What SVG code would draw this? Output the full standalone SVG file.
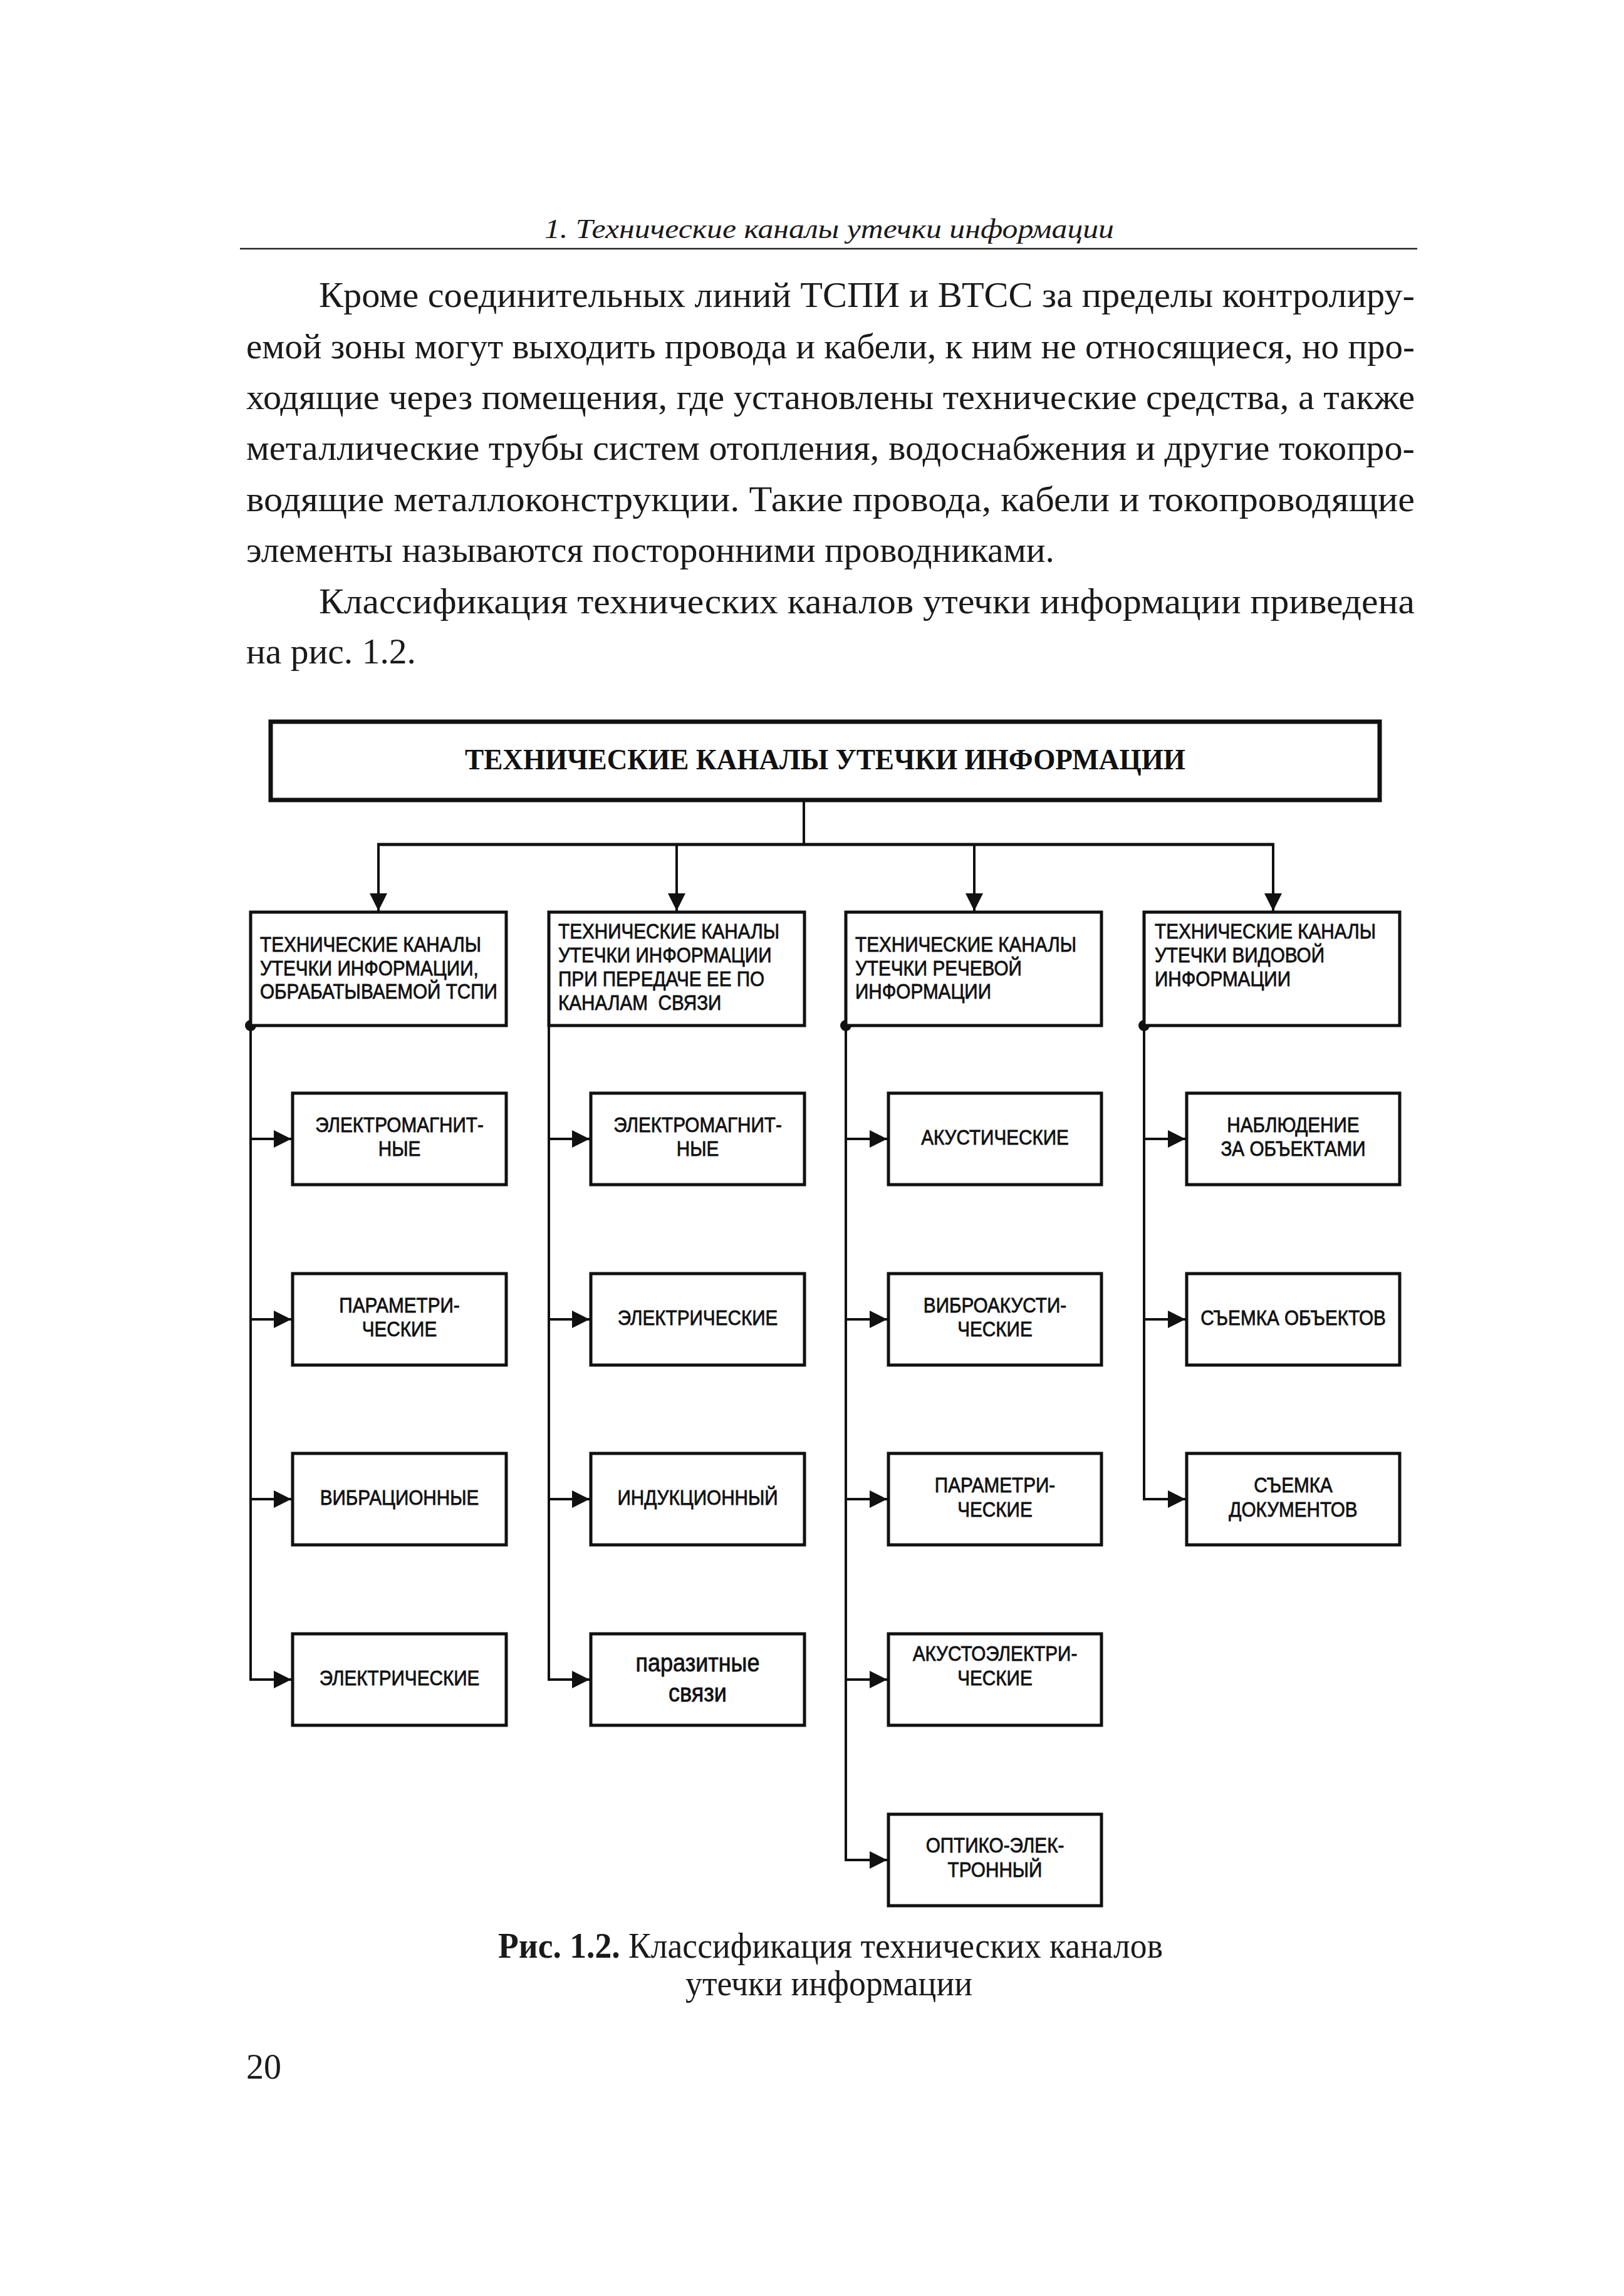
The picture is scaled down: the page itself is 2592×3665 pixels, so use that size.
<svg xmlns="http://www.w3.org/2000/svg" width="2592" height="3665" viewBox="0 0 2592 3665">
<defs>
<style>
.bg{fill:#fff}
.page{font-family:"Liberation Serif","Times New Roman",serif;fill:#1a1a1a}
.body{font-size:58px}
.cap{font-size:56px}
.hdr{font-size:44px;font-style:italic}
.box{fill:#fff;stroke:#111;stroke-width:5}
.topbox{fill:#fff;stroke:#111;stroke-width:7}
.title{font-family:"Liberation Serif","Times New Roman",serif;font-weight:bold;font-size:46px;fill:#111}
.lbl{font-family:"Liberation Sans",Arial,sans-serif;font-size:33px;fill:#111;stroke:#111;stroke-width:0.8}
.lbl.big{font-size:40px}
.con{fill:none;stroke:#111;stroke-width:4}
.bus{fill:none;stroke:#111;stroke-width:5}
.dot{fill:#111}
</style>
<marker id="ah" markerUnits="userSpaceOnUse" markerWidth="30" markerHeight="30" refX="28" refY="14" orient="auto">
<path d="M0,0 L28,14 L0,28 z" fill="#111"/>
</marker>
</defs>
<rect class="bg" x="0" y="0" width="2592" height="3665"/>

<g id="page-text" class="page">
<text class="hdr" x="869" y="380" textLength="909" lengthAdjust="spacingAndGlyphs">1. Технические каналы утечки информации</text>
<line x1="383" y1="397" x2="2262" y2="397" stroke="#222" stroke-width="2.5"/>
<text class="body" x="509" y="490" textLength="1749" lengthAdjust="spacingAndGlyphs">Кроме соединительных линий ТСПИ и ВТСС за пределы контролиру-</text>
<text class="body" x="393" y="572" textLength="1865" lengthAdjust="spacingAndGlyphs">емой зоны могут выходить провода и кабели, к ним не относящиеся, но про-</text>
<text class="body" x="393" y="653" textLength="1865" lengthAdjust="spacingAndGlyphs">ходящие через помещения, где установлены технические средства, а также</text>
<text class="body" x="393" y="734" textLength="1865" lengthAdjust="spacingAndGlyphs">металлические трубы систем отопления, водоснабжения и другие токопро-</text>
<text class="body" x="393" y="816" textLength="1865" lengthAdjust="spacingAndGlyphs">водящие металлоконструкции. Такие провода, кабели и токопроводящие</text>
<text class="body" x="393" y="897" textLength="1290" lengthAdjust="spacingAndGlyphs">элементы называются посторонними проводниками.</text>
<text class="body" x="509" y="979" textLength="1749" lengthAdjust="spacingAndGlyphs">Классификация технических каналов утечки информации приведена</text>
<text class="body" x="393" y="1059" textLength="271" lengthAdjust="spacingAndGlyphs">на рис. 1.2.</text>
<text class="cap" x="795" y="3125" textLength="1061" lengthAdjust="spacingAndGlyphs"><tspan font-weight="bold">Рис. 1.2.</tspan> Классификация технических каналов</text>
<text class="cap" x="1094" y="3185" textLength="458" lengthAdjust="spacingAndGlyphs">утечки информации</text>
<text class="cap" x="393" y="3318">20</text>
</g>

<g id="connectors">
<line class="con" x1="1283" y1="1277" x2="1283" y2="1348"/>
<line class="bus" x1="602" y1="1348" x2="2034" y2="1348"/>
<line class="con" x1="604" y1="1348" x2="604" y2="1454" marker-end="url(#ah)"/>
<line class="con" x1="1080" y1="1348" x2="1080" y2="1454" marker-end="url(#ah)"/>
<line class="con" x1="1555" y1="1348" x2="1555" y2="1454" marker-end="url(#ah)"/>
<line class="con" x1="2032" y1="1348" x2="2032" y2="1454" marker-end="url(#ah)"/>
<line class="con" x1="400" y1="1637" x2="400" y2="2683"/>
<line class="con" x1="876" y1="1637" x2="876" y2="2683"/>
<line class="con" x1="1350" y1="1637" x2="1350" y2="2971"/>
<line class="con" x1="1826" y1="1637" x2="1826" y2="2395"/>
<circle class="dot" cx="400" cy="1637" r="9"/>
<circle class="dot" cx="1350" cy="1637" r="9"/>
<circle class="dot" cx="1826" cy="1637" r="9"/>
<line class="con" x1="398" y1="1818" x2="465" y2="1818" marker-end="url(#ah)"/>
<line class="con" x1="398" y1="2106" x2="465" y2="2106" marker-end="url(#ah)"/>
<line class="con" x1="398" y1="2393" x2="465" y2="2393" marker-end="url(#ah)"/>
<line class="con" x1="398" y1="2681" x2="465" y2="2681" marker-end="url(#ah)"/>
<line class="con" x1="874" y1="1818" x2="941" y2="1818" marker-end="url(#ah)"/>
<line class="con" x1="874" y1="2106" x2="941" y2="2106" marker-end="url(#ah)"/>
<line class="con" x1="874" y1="2393" x2="941" y2="2393" marker-end="url(#ah)"/>
<line class="con" x1="874" y1="2681" x2="941" y2="2681" marker-end="url(#ah)"/>
<line class="con" x1="1348" y1="1818" x2="1416" y2="1818" marker-end="url(#ah)"/>
<line class="con" x1="1348" y1="2106" x2="1416" y2="2106" marker-end="url(#ah)"/>
<line class="con" x1="1348" y1="2393" x2="1416" y2="2393" marker-end="url(#ah)"/>
<line class="con" x1="1348" y1="2681" x2="1416" y2="2681" marker-end="url(#ah)"/>
<line class="con" x1="1348" y1="2969" x2="1416" y2="2969" marker-end="url(#ah)"/>
<line class="con" x1="1824" y1="1818" x2="1892" y2="1818" marker-end="url(#ah)"/>
<line class="con" x1="1824" y1="2106" x2="1892" y2="2106" marker-end="url(#ah)"/>
<line class="con" x1="1824" y1="2393" x2="1892" y2="2393" marker-end="url(#ah)"/>
</g>

<g id="root">
<rect class="topbox" x="432" y="1152" width="1770" height="125"/>
<text class="title" x="1317" y="1228" text-anchor="middle" textLength="1150" lengthAdjust="spacingAndGlyphs">ТЕХНИЧЕСКИЕ КАНАЛЫ УТЕЧКИ ИНФОРМАЦИИ</text>
</g>

<g id="cat1">
<rect class="box" x="400" y="1456" width="408" height="181"/>
<text class="lbl" transform="translate(415,0) scale(0.9,1)"><tspan x="0" y="1519">ТЕХНИЧЕСКИЕ КАНАЛЫ</tspan><tspan x="0" y="1557">УТЕЧКИ ИНФОРМАЦИИ,</tspan><tspan x="0" y="1594">ОБРАБАТЫВАЕМОЙ ТСПИ</tspan></text>
</g>
<g id="cat2">
<rect class="box" x="876" y="1456" width="408" height="181"/>
<text class="lbl" transform="translate(891,0) scale(0.9,1)"><tspan x="0" y="1498">ТЕХНИЧЕСКИЕ КАНАЛЫ</tspan><tspan x="0" y="1536">УТЕЧКИ ИНФОРМАЦИИ</tspan><tspan x="0" y="1574">ПРИ ПЕРЕДАЧЕ ЕЕ ПО</tspan><tspan x="0" y="1612" xml:space="preserve">КАНАЛАМ  СВЯЗИ</tspan></text>
</g>
<g id="cat3">
<rect class="box" x="1350" y="1456" width="408" height="181"/>
<text class="lbl" transform="translate(1365,0) scale(0.9,1)"><tspan x="0" y="1519">ТЕХНИЧЕСКИЕ КАНАЛЫ</tspan><tspan x="0" y="1557">УТЕЧКИ РЕЧЕВОЙ</tspan><tspan x="0" y="1594">ИНФОРМАЦИИ</tspan></text>
</g>
<g id="cat4">
<rect class="box" x="1826" y="1456" width="408" height="181"/>
<text class="lbl" transform="translate(1843,0) scale(0.9,1)"><tspan x="0" y="1498">ТЕХНИЧЕСКИЕ КАНАЛЫ</tspan><tspan x="0" y="1536">УТЕЧКИ ВИДОВОЙ</tspan><tspan x="0" y="1574">ИНФОРМАЦИИ</tspan></text>
</g>

<g id="c1-1"><rect class="box" x="467" y="1745" width="341" height="146"/>
<text class="lbl" text-anchor="middle" transform="translate(637.5,0) scale(0.9,1)"><tspan x="0" y="1807">ЭЛЕКТРОМАГНИТ-</tspan><tspan x="0" y="1845">НЫЕ</tspan></text></g>
<g id="c1-2"><rect class="box" x="467" y="2033" width="341" height="146"/>
<text class="lbl" text-anchor="middle" transform="translate(637.5,0) scale(0.9,1)"><tspan x="0" y="2095">ПАРАМЕТРИ-</tspan><tspan x="0" y="2133">ЧЕСКИЕ</tspan></text></g>
<g id="c1-3"><rect class="box" x="467" y="2320" width="341" height="146"/>
<text class="lbl" text-anchor="middle" transform="translate(637.5,0) scale(0.9,1)"><tspan x="0" y="2402">ВИБРАЦИОННЫЕ</tspan></text></g>
<g id="c1-4"><rect class="box" x="467" y="2608" width="341" height="146"/>
<text class="lbl" text-anchor="middle" transform="translate(637.5,0) scale(0.9,1)"><tspan x="0" y="2690">ЭЛЕКТРИЧЕСКИЕ</tspan></text></g>

<g id="c2-1"><rect class="box" x="943" y="1745" width="341" height="146"/>
<text class="lbl" text-anchor="middle" transform="translate(1113.5,0) scale(0.9,1)"><tspan x="0" y="1807">ЭЛЕКТРОМАГНИТ-</tspan><tspan x="0" y="1845">НЫЕ</tspan></text></g>
<g id="c2-2"><rect class="box" x="943" y="2033" width="341" height="146"/>
<text class="lbl" text-anchor="middle" transform="translate(1113.5,0) scale(0.9,1)"><tspan x="0" y="2115">ЭЛЕКТРИЧЕСКИЕ</tspan></text></g>
<g id="c2-3"><rect class="box" x="943" y="2320" width="341" height="146"/>
<text class="lbl" text-anchor="middle" transform="translate(1113.5,0) scale(0.9,1)"><tspan x="0" y="2402">ИНДУКЦИОННЫЙ</tspan></text></g>
<g id="c2-4"><rect class="box" x="943" y="2608" width="341" height="146"/>
<text class="lbl big" text-anchor="middle" transform="translate(1113.5,0) scale(0.9,1)"><tspan x="0" y="2668">паразитные</tspan><tspan x="0" y="2716">связи</tspan></text></g>

<g id="c3-1"><rect class="box" x="1418" y="1745" width="340" height="146"/>
<text class="lbl" text-anchor="middle" transform="translate(1588,0) scale(0.9,1)"><tspan x="0" y="1827">АКУСТИЧЕСКИЕ</tspan></text></g>
<g id="c3-2"><rect class="box" x="1418" y="2033" width="340" height="146"/>
<text class="lbl" text-anchor="middle" transform="translate(1588,0) scale(0.9,1)"><tspan x="0" y="2095">ВИБРОАКУСТИ-</tspan><tspan x="0" y="2133">ЧЕСКИЕ</tspan></text></g>
<g id="c3-3"><rect class="box" x="1418" y="2320" width="340" height="146"/>
<text class="lbl" text-anchor="middle" transform="translate(1588,0) scale(0.9,1)"><tspan x="0" y="2382">ПАРАМЕТРИ-</tspan><tspan x="0" y="2421">ЧЕСКИЕ</tspan></text></g>
<g id="c3-4"><rect class="box" x="1418" y="2608" width="340" height="146"/>
<text class="lbl" text-anchor="middle" transform="translate(1588,0) scale(0.9,1)"><tspan x="0" y="2651">АКУСТОЭЛЕКТРИ-</tspan><tspan x="0" y="2690">ЧЕСКИЕ</tspan></text></g>
<g id="c3-5"><rect class="box" x="1418" y="2896" width="340" height="146"/>
<text class="lbl" text-anchor="middle" transform="translate(1588,0) scale(0.9,1)"><tspan x="0" y="2957">ОПТИКО-ЭЛЕК-</tspan><tspan x="0" y="2996">ТРОННЫЙ</tspan></text></g>

<g id="c4-1"><rect class="box" x="1894" y="1745" width="340" height="146"/>
<text class="lbl" text-anchor="middle" transform="translate(2064,0) scale(0.9,1)"><tspan x="0" y="1807">НАБЛЮДЕНИЕ</tspan><tspan x="0" y="1845">ЗА ОБЪЕКТАМИ</tspan></text></g>
<g id="c4-2"><rect class="box" x="1894" y="2033" width="340" height="146"/>
<text class="lbl" text-anchor="middle" transform="translate(2064,0) scale(0.9,1)"><tspan x="0" y="2115">СЪЕМКА ОБЪЕКТОВ</tspan></text></g>
<g id="c4-3"><rect class="box" x="1894" y="2320" width="340" height="146"/>
<text class="lbl" text-anchor="middle" transform="translate(2064,0) scale(0.9,1)"><tspan x="0" y="2382">СЪЕМКА</tspan><tspan x="0" y="2421">ДОКУМЕНТОВ</tspan></text></g>
</svg>
